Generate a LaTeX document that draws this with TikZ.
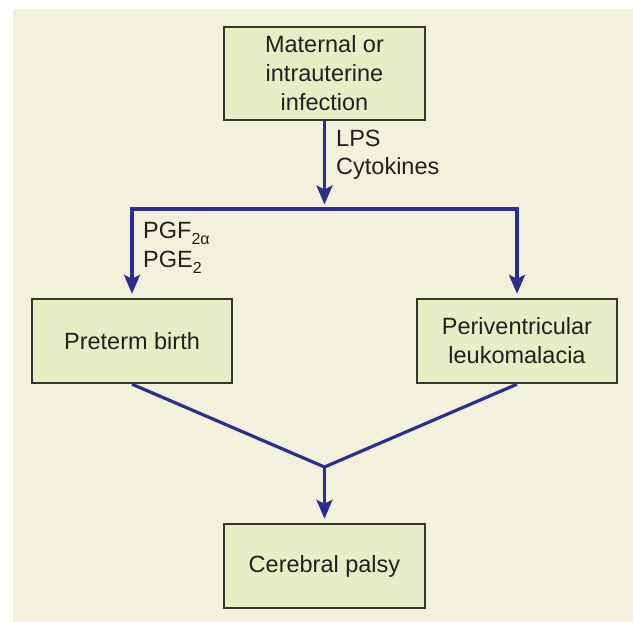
\documentclass[tikz,border=0pt]{standalone}
\usepackage{fontspec}
\setmainfont{Liberation Sans}
\usetikzlibrary{arrows.meta}
\definecolor{bgcream}{HTML}{F2F2DC}
\definecolor{boxfill}{HTML}{E5EEC5}
\definecolor{boxline}{HTML}{35362C}
\definecolor{arrblue}{HTML}{2B2E8F}
\definecolor{txt}{HTML}{231F20}
\newcommand{\sbs}[1]{\raisebox{-6pt}{\fontsize{16}{16}\selectfont #1}}
\begin{document}
\begin{tikzpicture}[x=1pt,y=-1pt,
  box/.style={draw=boxline, fill=boxfill, line width=2.4pt, inner sep=0pt,
    align=center, text=txt, font=\fontsize{23.5}{29}\selectfont},
  lbl/.style={anchor=base west, inner sep=0pt, align=left, text=txt,
    font=\fontsize{23.5}{29}\selectfont},
  conn/.style={draw=arrblue, line width=3.2pt, line join=miter},
  arr/.style={conn, -{Stealth[length=19pt,width=16pt,inset=4pt]}, shorten >=4pt}]
\useasboundingbox (0,0) rectangle (633,622);
\fill[white] (0,0) rectangle (633,622);
\fill[bgcream] (13,9) rectangle (633,622);
% boxes
\node[box, minimum width=201pt, minimum height=93pt] (top) at (324.5,73.5) {Maternal or\\intrauterine\\infection};
\node[box, minimum width=200pt, minimum height=84pt] (preterm) at (132,341) {Preterm birth};
\node[box, minimum width=200pt, minimum height=84pt] (periv) at (517,341) {Periventricular\\leukomalacia};
\node[box, minimum width=201pt, minimum height=84pt] (cp) at (324.5,566) {Cerebral palsy};
% connector points
\coordinate (split) at (324.5,209);
\coordinate (join) at (324.5,467);
% connectors
\draw[arr, shorten >=4.5pt] (top.south) -- (split);
\draw[arr] (split) -| (preterm.north);
\draw[arr] (split) -| (periv.north);
\draw[conn, line join=round] (preterm.south) -- (join) -- (periv.south);
\draw[arr] (join) -- (cp.north);
% labels
\node[lbl] (lps) at (336,146) {LPS};
\node[lbl] (cyto) at (336,174) {Cytokines};
\node[lbl] (pgf) at (143,238) {PGF\sbs{2α}};
\node[lbl] (pge) at (143,267) {PGE\sbs{2}};
\end{tikzpicture}
\end{document}
